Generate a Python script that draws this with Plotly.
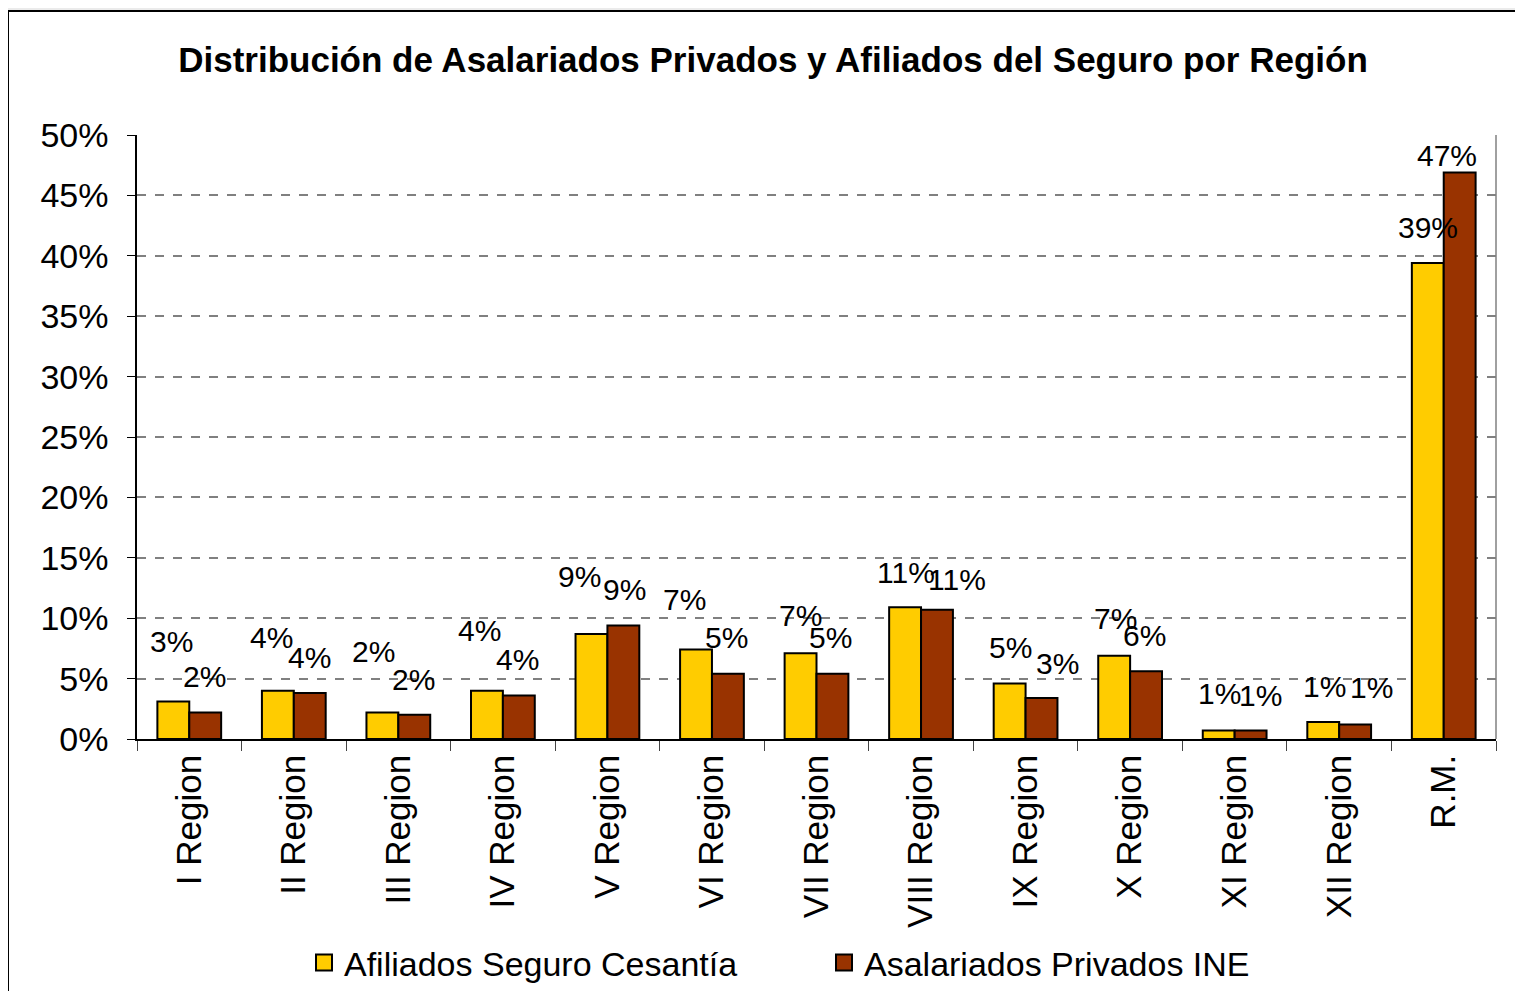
import plotly.graph_objects as go

regions = ["I Region", "II Region", "III Region", "IV Region", "V Region", "VI Region",
           "VII Region", "VIII Region", "IX Region", "X Region", "XI Region", "XII Region", "R.M."]
afiliados = [0.031, 0.040, 0.022, 0.040, 0.087, 0.074, 0.071, 0.109, 0.046, 0.069, 0.007, 0.014, 0.394]
asalariados = [0.022, 0.038, 0.020, 0.036, 0.094, 0.054, 0.054, 0.107, 0.034, 0.056, 0.007, 0.012, 0.469]

# label offsets (px) from the top of each bar, as the labels sit in the original
dx_afil = [-18, -22, -25, -23, -28, -27, -16, -15, -15, -15, -15, -15, -16]
dx_asal = [15, 16, 15, 15, 17, 15, 14, 36, 32, 14, 26, 32, 3]
dy_afil = [60, 53, 61, 60, 57, 50, 38, 35, 36, 37, 37, 36, 36]
dy_asal = [36, 36, 35, 36, 36, 36, 36, 30, 34, 36, 35, 37, 17]

YELLOW = "#FFCC00"
BROWN = "#993300"
FONT = "Liberation Sans, Arial, sans-serif"

W, H = 1515, 983
L, R, T, B = 129, 27, 127, 252
PW, PH = W - L - R, H - T - B

fig = go.Figure()
fig.add_trace(go.Bar(x=regions, y=afiliados, name="Afiliados Seguro Cesantía", showlegend=False,
                     marker=dict(color=YELLOW, line=dict(color="black", width=2))))
fig.add_trace(go.Bar(x=regions, y=asalariados, name="Asalariados Privados INE", showlegend=False,
                     marker=dict(color=BROWN, line=dict(color="black", width=2))))
# legend entries with square keys
for name, col in [("Afiliados Seguro Cesantía", YELLOW), ("Asalariados Privados INE", BROWN)]:
    fig.add_trace(go.Scatter(x=[None], y=[None], mode="markers", name=name,
                             marker=dict(symbol="square", size=20, color=col,
                                         line=dict(color="black", width=2))))

for vals, dxs, dys in [(afiliados, dx_afil, dy_afil), (asalariados, dx_asal, dy_asal)]:
    for r, v, dx, dy in zip(regions, vals, dxs, dys):
        fig.add_annotation(x=r, y=v, text=f"{v:.0%}", showarrow=False,
                           xshift=dx, yshift=dy, yanchor="middle",
                           font=dict(size=30, color="black", family=FONT))

# white chart area with black border over the grey page
fig.add_shape(type="rect", xref="paper", yref="paper",
              x0=-L / PW, x1=(W + 10 - L) / PW, y0=-(B + 10) / PH, y1=1 + (T - 3) / PH,
              line=dict(color="black", width=2), fillcolor="white", layer="below")

fig.update_layout(
    width=W, height=H,
    margin=dict(l=L, r=R, t=T, b=B),
    paper_bgcolor="#ebebeb", plot_bgcolor="rgba(0,0,0,0)",
    font=dict(family=FONT, color="black"),
    title=dict(text="<b>Distribución de Asalariados Privados y Afiliados del Seguro por Región</b>",
               x=765 / W, xanchor="center", y=1 - 52 / H, yanchor="middle",
               font=dict(size=35, family=FONT)),
    barmode="group", bargap=0.39, bargroupgap=0,
    showlegend=True,
    legend=dict(orientation="h", xref="container", yref="container",
                x=296 / W, xanchor="left", y=(H - 955) / H, yanchor="middle",
                font=dict(size=34, family=FONT), bgcolor="rgba(0,0,0,0)", itemwidth=30,
                entrywidth=475, entrywidthmode="pixels"),
)
fig.update_yaxes(range=[0, 0.5], dtick=0.05, tickformat=".0%", showgrid=True,
                 gridcolor="#808080", griddash="dash", gridwidth=1.5,
                 showline=True, linecolor="black", linewidth=1.5,
                 ticks="outside", ticklen=8, tickcolor="black", ticklabelstandoff=12,
                 tickfont=dict(size=34), zeroline=False, automargin=False)
fig.update_xaxes(showline=True, linecolor="black", linewidth=1.5, ticks="outside",
                 tickson="boundaries", ticklen=10, tickcolor="#444", tickangle=-90,
                 tickfont=dict(size=35), showgrid=False, automargin=False)
# thin grey right edge of the plot area
fig.add_shape(type="line", xref="paper", yref="paper", x0=1, x1=1, y0=0, y1=1,
              line=dict(color="#808080", width=1.5))

fig.write_html("out.html")
